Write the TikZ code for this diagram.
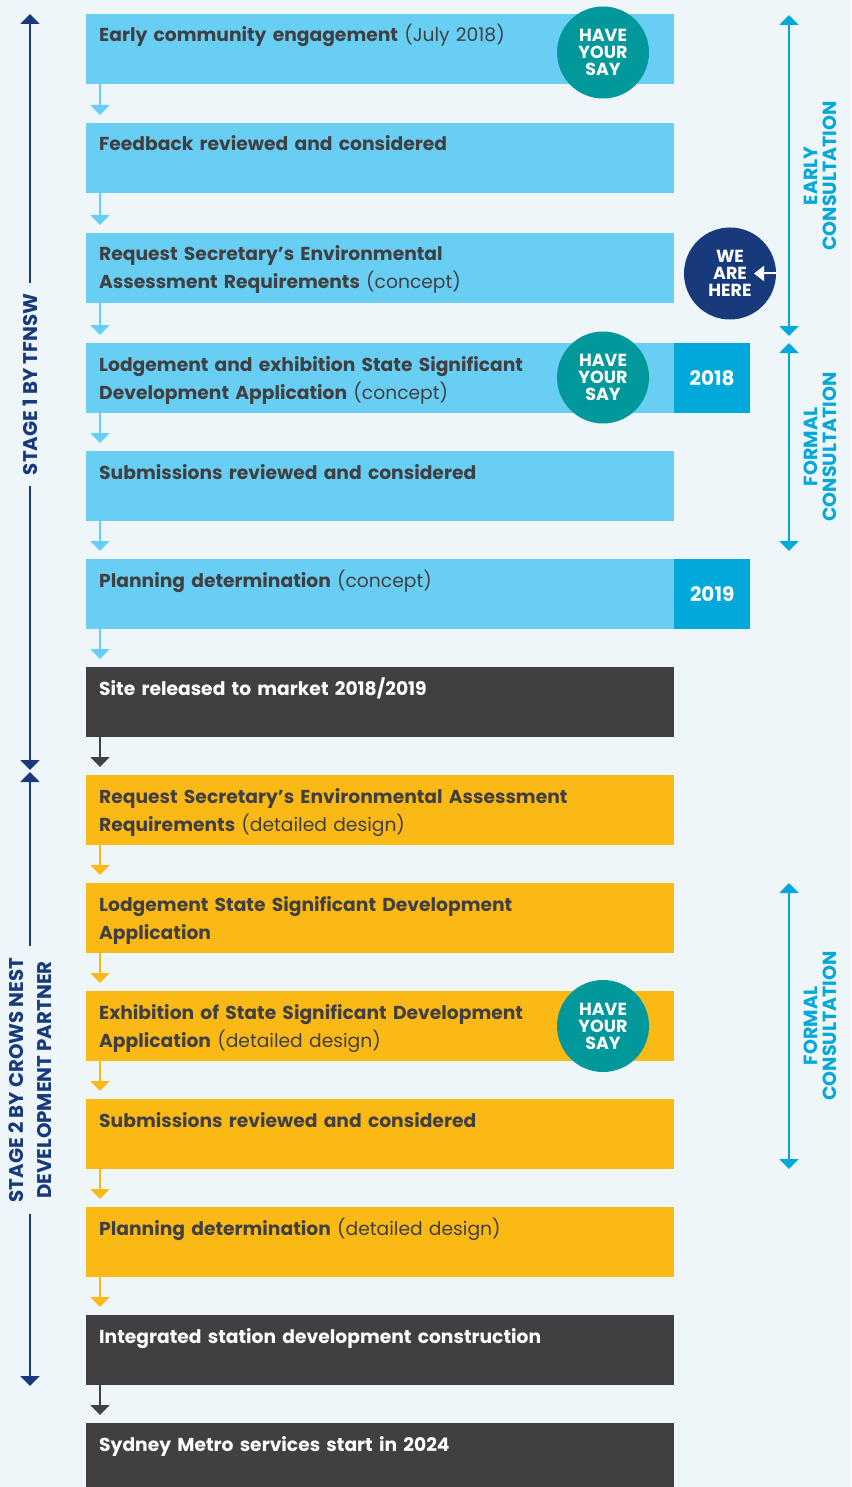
\documentclass[tikz,border=0pt]{standalone}
\usepackage{fontspec}
\setmainfont{Poppins}
\usetikzlibrary{arrows.meta}
\definecolor{bgcol}{HTML}{EEF6F9}
\definecolor{lightcol}{HTML}{69CEF3}
\definecolor{yearcol}{HTML}{00A9D9}
\definecolor{goldcol}{HTML}{FBB916}
\definecolor{darkcol}{HTML}{404042}
\definecolor{tealcol}{HTML}{00989A}
\definecolor{navycol}{HTML}{163A7C}
\tikzstyle{box}=[rectangle, anchor=north west, minimum width=588pt, minimum height=70pt, inner sep=0pt]
\tikzstyle{lightbox}=[box, fill=lightcol]
\tikzstyle{goldbox}=[box, fill=goldcol]
\tikzstyle{darkbox}=[box, fill=darkcol]
\tikzstyle{yearbox}=[rectangle, anchor=north west, minimum width=76pt, minimum height=70pt, fill=yearcol, text=white, font=\bfseries\fontsize{20}{22}\selectfont]
\tikzstyle{steptext}=[anchor=base west, inner sep=0pt, text width=570pt, align=left, text=darkcol, font=\fontsize{18.7}{28}\selectfont]
\tikzstyle{whitetext}=[steptext, text=white]
\tikzstyle{saycircle}=[circle, minimum size=92pt, inner sep=0pt, fill=tealcol, text=white, align=center, font=\bfseries\fontsize{17.5}{17}\selectfont]
\tikzstyle{herecircle}=[saycircle, fill=navycol]
\tikzstyle{flow}=[line width=2pt, shorten >=8pt, -{Triangle[width=19pt,length=10pt]}]
\tikzstyle{stagearrow}=[navycol, line width=2pt, -{Triangle[width=19pt,length=10pt]}]
\tikzstyle{consultarrow}=[yearcol, line width=2pt, {Triangle[width=19pt,length=10pt]}-{Triangle[width=19pt,length=10pt]}]
\tikzstyle{stagelabel}=[rotate=90, inner xsep=11pt, inner ysep=0pt, align=center, text=navycol, font=\bfseries\fontsize{19.8}{28}\selectfont]
\tikzstyle{consultlabel}=[rotate=90, inner sep=0pt, align=center, text=yearcol, font=\bfseries\fontsize{19}{19}\selectfont]

\begin{document}
\begin{tikzpicture}[x=1pt, y=-1pt]
	\fill[bgcol] (0,0) rectangle (851,1487);
	\useasboundingbox (0,0) rectangle (851,1487);
	\begin{scope}
		\node[lightbox] (s1) at (86,14) {};
		\node[lightbox] (s2) at (86,123) {};
		\node[lightbox] (s3) at (86,233) {};
		\node[lightbox] (s4) at (86,343) {};
		\node[lightbox] (s5) at (86,451) {};
		\node[lightbox] (s6) at (86,559) {};
		\node[darkbox] (s7) at (86,667) {};
		\node[goldbox] (s8) at (86,775) {};
		\node[goldbox] (s9) at (86,883) {};
		\node[goldbox] (s10) at (86,991) {};
		\node[goldbox] (s11) at (86,1099) {};
		\node[goldbox] (s12) at (86,1207) {};
		\node[darkbox] (s13) at (86,1315) {};
		\node[darkbox] (s14) at (86,1423) {};
		\node[yearbox] (y2018) at (674,343) {2018};
		\node[yearbox] (y2019) at (674,559) {2019};
	\end{scope}
	\begin{scope}
		\node[steptext] at ([shift={(13,28)}]s1.north west) {\textbf{Early community engagement} (July 2018)};
		\node[steptext] at ([shift={(13,28)}]s2.north west) {\textbf{Feedback reviewed and considered}};
		\node[steptext] at ([shift={(13,28)}]s3.north west) {\textbf{Request Secretary’s Environmental}\\\textbf{Assessment Requirements} (concept)};
		\node[steptext] at ([shift={(13,28)}]s4.north west) {\textbf{Lodgement and exhibition State Significant}\\\textbf{Development Application} (concept)};
		\node[steptext] at ([shift={(13,28)}]s5.north west) {\textbf{Submissions reviewed and considered}};
		\node[steptext] at ([shift={(13,28)}]s6.north west) {\textbf{Planning determination} (concept)};
		\node[whitetext] at ([shift={(13,28)}]s7.north west) {\textbf{Site released to market 2018/2019}};
		\node[steptext] at ([shift={(13,28)}]s8.north west) {\textbf{Request Secretary’s Environmental Assessment}\\\textbf{Requirements} (detailed design)};
		\node[steptext] at ([shift={(13,28)}]s9.north west) {\textbf{Lodgement State Significant Development}\\\textbf{Application}};
		\node[steptext] at ([shift={(13,28)}]s10.north west) {\textbf{Exhibition of State Significant Development}\\\textbf{Application} (detailed design)};
		\node[steptext] at ([shift={(13,28)}]s11.north west) {\textbf{Submissions reviewed and considered}};
		\node[steptext] at ([shift={(13,28)}]s12.north west) {\textbf{Planning determination} (detailed design)};
		\node[whitetext] at ([shift={(13,28)}]s13.north west) {\textbf{Integrated station development construction}};
		\node[whitetext] at ([shift={(13,28)}]s14.north west) {\textbf{Sydney Metro services start in 2024}};
	\end{scope}
	\begin{scope}
		\node[saycircle] (say1) at (603,52.5) {HAVE\\YOUR\\SAY};
		\node[saycircle] (say2) at (603,377.5) {HAVE\\YOUR\\SAY};
		\node[saycircle] (say3) at (603,1026) {HAVE\\YOUR\\SAY};
		\node[herecircle] (here) at (730,273.5) {WE\\ARE\\HERE};
		\coordinate (herept) at (754,273.5);
		\draw [white, line width=2pt, -{Triangle[width=15pt,length=10pt]}] (here.east) -- (herept);
	\end{scope}
	\begin{scope}
		\draw [flow, lightcol] ([xshift=14pt]s1.south west) -- ([xshift=14pt]s2.north west);
		\draw [flow, lightcol] ([xshift=14pt]s2.south west) -- ([xshift=14pt]s3.north west);
		\draw [flow, lightcol] ([xshift=14pt]s3.south west) -- ([xshift=14pt]s4.north west);
		\draw [flow, lightcol] ([xshift=14pt]s4.south west) -- ([xshift=14pt]s5.north west);
		\draw [flow, lightcol] ([xshift=14pt]s5.south west) -- ([xshift=14pt]s6.north west);
		\draw [flow, lightcol] ([xshift=14pt]s6.south west) -- ([xshift=14pt]s7.north west);
		\draw [flow, darkcol] ([xshift=14pt]s7.south west) -- ([xshift=14pt]s8.north west);
		\draw [flow, goldcol] ([xshift=14pt]s8.south west) -- ([xshift=14pt]s9.north west);
		\draw [flow, goldcol] ([xshift=14pt]s9.south west) -- ([xshift=14pt]s10.north west);
		\draw [flow, goldcol] ([xshift=14pt]s10.south west) -- ([xshift=14pt]s11.north west);
		\draw [flow, goldcol] ([xshift=14pt]s11.south west) -- ([xshift=14pt]s12.north west);
		\draw [flow, goldcol] ([xshift=14pt]s12.south west) -- ([xshift=14pt]s13.north west);
		\draw [flow, darkcol] ([xshift=14pt]s13.south west) -- ([xshift=14pt]s14.north west);
	\end{scope}
	% stages on the left
	\begin{scope}
		\coordinate (st1top) at (30,14);
		\coordinate (st1bot) at (30,770);
		\coordinate (st2top) at (30,772);
		\coordinate (st2bot) at (30,1386);
		\node[stagelabel] (st1lbl) at (30,384.5) {STAGE 1 BY TFNSW};
		\node[stagelabel] (st2lbl) at (30,1080) {STAGE 2 BY CROWS NEST\\DEVELOPMENT PARTNER};
		\draw[stagearrow] (st1lbl) -- (st1top);
		\draw[stagearrow] (st1lbl) -- (st1bot);
		\draw[stagearrow] (st2lbl) -- (st2top);
		\draw[stagearrow] (st2lbl) -- (st2bot);
	\end{scope}
	% consultation on the right
	\begin{scope}
		\coordinate (c1top) at (789,15);
		\coordinate (c1bot) at (789,336);
		\coordinate (c2top) at (789,343);
		\coordinate (c2bot) at (789,551);
		\coordinate (c3top) at (789,883);
		\coordinate (c3bot) at (789,1169);
		\node[consultlabel] (c1lbl) at (820,176) {EARLY\\CONSULTATION};
		\node[consultlabel] (c2lbl) at (820,447) {FORMAL\\CONSULTATION};
		\node[consultlabel] (c3lbl) at (820,1026) {FORMAL\\CONSULTATION};
		\draw[consultarrow] (c1top) -- (c1bot);
		\draw[consultarrow] (c2top) -- (c2bot);
		\draw[consultarrow] (c3top) -- (c3bot);
	\end{scope}
\end{tikzpicture}
\end{document}
